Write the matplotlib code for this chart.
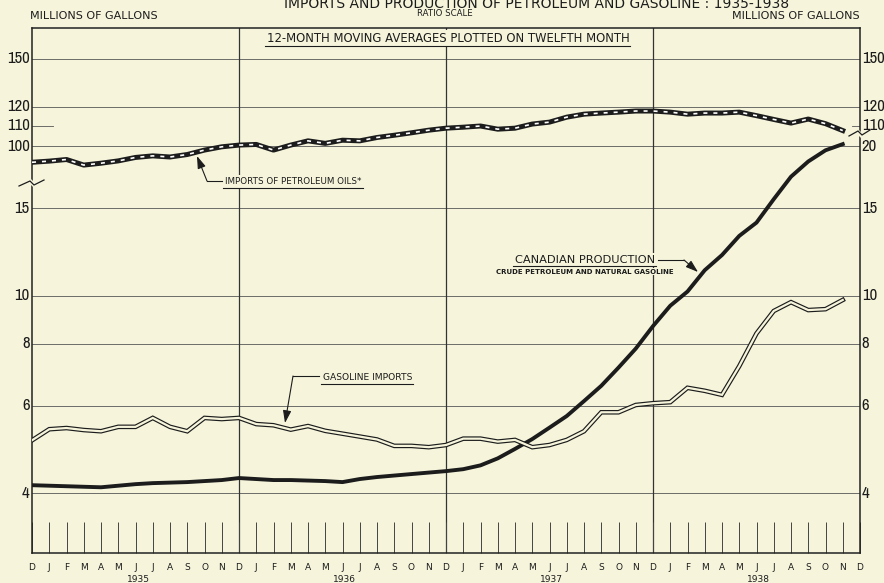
import matplotlib
matplotlib.use("Agg")
import matplotlib.pyplot as plt
from matplotlib import font_manager
from matplotlib.font_manager import FontProperties
from matplotlib.transforms import Affine2D, blended_transform_factory
from matplotlib.lines import Line2D
from matplotlib.ticker import NullLocator

plt.rcParams['lines.scale_dashes'] = False

# ---------------- data ----------------
month_letters = ['D', 'J', 'F', 'M', 'A', 'M', 'J', 'J', 'A', 'S', 'O', 'N'] * 4 + ['D']
year_labels = ['1935', '1936', '1937', '1938']
year_positions = [6.2, 18.1, 30.1, 42.1]
months = list(range(48))  # Dec 1934 ... Nov 1938

# millions of gallons (upper part of ratio scale)
imports_petroleum = [92.8, 93.3, 94.0, 91.6, 92.4, 93.4, 94.9, 95.6, 95.1, 96.2, 98.2, 99.7,
                     100.5, 100.8, 98.2, 100.5, 102.5, 101.3, 102.8, 102.5, 104.1, 105.2, 106.4, 107.7,
                     108.7, 109.2, 109.8, 108.2, 108.7, 110.8, 111.8, 114.4, 116.0, 116.6, 117.1, 117.7,
                     117.7, 117.1, 116.0, 116.6, 116.6, 117.1, 115.2, 113.2, 111.3, 113.4, 111.0, 107.5]
# millions of gallons (lower part)
canadian_production = [4.15, 4.14, 4.13, 4.12, 4.11, 4.14, 4.17, 4.19, 4.20, 4.21, 4.23, 4.25,
                       4.29, 4.27, 4.25, 4.25, 4.24, 4.23, 4.21, 4.27, 4.31, 4.34, 4.37, 4.40,
                       4.43, 4.47, 4.55, 4.70, 4.91, 5.14, 5.42, 5.72, 6.13, 6.58, 7.16, 7.82,
                       8.68, 9.54, 10.19, 11.25, 12.07, 13.19, 14.03, 15.64, 17.36, 18.63, 19.62, 20.19]
gasoline_imports = [5.11, 5.38, 5.41, 5.36, 5.33, 5.44, 5.44, 5.67, 5.44, 5.33, 5.67, 5.64,
                    5.67, 5.51, 5.48, 5.37, 5.46, 5.34, 5.27, 5.20, 5.13, 4.98, 4.98, 4.95,
                    5.00, 5.15, 5.15, 5.08, 5.12, 4.95, 5.00, 5.12, 5.33, 5.82, 5.82, 6.02,
                    6.07, 6.10, 6.52, 6.43, 6.31, 7.21, 8.39, 9.31, 9.70, 9.35, 9.39, 9.80]

UPPER_FACTOR = 5.0  # upper section: 100 sits where 20 sits on the lower section
upper_ticks = [150, 120, 110, 100]
lower_ticks = [15, 10, 8, 6, 4]
right_upper_ticks = [150, 120, 110]
right_lower_ticks = [20, 15, 10, 8, 6, 4]

# ---------------- styling ----------------
BG = '#f6f5dc'
INK = '#1c1c1c'
W, H = 884, 583


def number_font():
    cands = []
    for f in font_manager.fontManager.ttflist:
        nm = f.name
        narrow = ('Narrow' in nm or 'Condensed' in nm or
                  f.stretch in ('condensed', 'semi-condensed', 'extra-condensed'))
        if narrow and 'Mono' not in nm and 'Serif' not in nm and f.style == 'normal':
            w = f.weight if isinstance(f.weight, int) else 400
            cands.append((abs(w - 400), nm, f.fname))
    if cands:
        cands.sort()
        return FontProperties(fname=cands[0][2], size=12)
    return FontProperties(family='Liberation Sans', size=9.8)


NUM_FP = number_font()
plt.rcParams['font.family'] = ['DejaVu Sans']

fig = plt.figure(figsize=(W / 100, H / 100), dpi=100, facecolor=BG)
ax = fig.add_axes([32 / W, 30 / H, 828 / W, 525 / H], facecolor=BG)
ax.set_yscale('log')
ax.set_ylim(3.03, 34.6)
ax.set_xlim(0, 48)
ax.yaxis.set_major_locator(NullLocator())
ax.yaxis.set_minor_locator(NullLocator())
ax.set_xticks(range(49))
ax.tick_params(axis='x', direction='in', length=22.3, width=0.7, color='#444', labelbottom=False)
for s in ax.spines.values():
    s.set_linewidth(1.1)
    s.set_color('#222')

# gridlines
grid_vals = [v / UPPER_FACTOR for v in [150, 120, 100]] + lower_ticks
for v in grid_vals:
    ax.axhline(v, color='#555', lw=0.6, zorder=1)
for x in (12, 24, 36):
    ax.axvline(x, color='#333', lw=0.9, zorder=1)
ax_b = blended_transform_factory(ax.transAxes, ax.transData)
ax.plot([0, 0.025], [110 / UPPER_FACTOR] * 2, transform=ax_b, color='#555', lw=0.6)
ax.plot([0.99, 1.0], [110 / UPPER_FACTOR] * 2, transform=ax_b, color='#555', lw=0.6)

# y labels
for v in upper_ticks:
    ax.text(-0.003, v / UPPER_FACTOR, str(v), transform=ax_b, ha='right', va='center',
            fontproperties=NUM_FP, color=INK)
for v in lower_ticks:
    ax.text(-0.003, v, str(v), transform=ax_b, ha='right', va='center',
            fontproperties=NUM_FP, color=INK)
for v in right_upper_ticks:
    ax.text(1.002, v / UPPER_FACTOR, str(v), transform=ax_b, ha='left', va='center',
            fontproperties=NUM_FP, color=INK)
for v in right_lower_ticks:
    ax.text(1.002, v, str(v), transform=ax_b, ha='left', va='center',
            fontproperties=NUM_FP, color=INK)

# month / year labels
bx = blended_transform_factory(ax.transData, ax.transAxes)
for i, m in enumerate(month_letters):
    ax.text(i, -14 / 525, m, transform=bx, ha='center', va='center', fontsize=6.5, color=INK,
            clip_on=False)
for p, y in zip(year_positions, year_labels):
    ax.text(p, -26 / 525, y, transform=bx, ha='center', va='center', fontsize=6.5, color=INK,
            clip_on=False)

# series
imp = [v / UPPER_FACTOR for v in imports_petroleum]
ax.plot(months, imp, color=INK, lw=3.6, solid_joinstyle='round', zorder=5)
ax.plot(months, imp, color='white', lw=1.2, dashes=(2.9, 4.3), zorder=6)
ax.plot(months, canadian_production, color=INK, lw=2.8, solid_joinstyle='round', zorder=5)
ax.plot(months, gasoline_imports, color=INK, lw=3.3, solid_joinstyle='miter', zorder=5)
ax.plot(months, gasoline_imports, color=BG, lw=1.6, solid_joinstyle='miter', zorder=6)

# ---------------- text in reference pixel space ----------------
px = Affine2D().scale(1, -1).translate(0, H)
box = dict(facecolor=BG, edgecolor='none', pad=1.5)

fig.text(537, 7.5, 'IMPORTS AND PRODUCTION OF PETROLEUM AND GASOLINE : 1935-1938',
         transform=px, ha='center', va='baseline', fontsize=10, color=INK)
fig.text(30, 19, 'MILLIONS OF GALLONS', transform=px, ha='left', va='baseline', fontsize=8, color=INK)
fig.text(860, 19, 'MILLIONS OF GALLONS', transform=px, ha='right', va='baseline', fontsize=8, color=INK)
fig.text(445, 16.5, 'RATIO SCALE', transform=px, ha='center', va='baseline', fontsize=6.2, color=INK)

underlined = []
t = fig.text(448, 42, '12-MONTH MOVING AVERAGES PLOTTED ON TWELFTH MONTH', transform=px,
             ha='center', va='baseline', fontsize=8.4, color=INK, bbox=box, zorder=4)
underlined.append((t, 45.5))
t_imp = fig.text(225, 184, 'IMPORTS OF PETROLEUM OILS*', transform=px, ha='left', va='baseline',
                 fontsize=6.3, color=INK, bbox=box, zorder=4)
underlined.append((t_imp, 188))
t_can = fig.text(585, 263, 'CANADIAN PRODUCTION', transform=px, ha='center', va='baseline',
                 fontsize=8.2, color=INK, bbox=box, zorder=4)
underlined.append((t_can, 266))
fig.text(585, 273.5, 'CRUDE PETROLEUM AND NATURAL GASOLINE', transform=px, ha='center',
         va='baseline', fontsize=5.0, weight='bold', color=INK,
         bbox=dict(facecolor=BG, edgecolor='none', pad=0.5), zorder=4)
t_gas = fig.text(323, 380, 'GASOLINE IMPORTS', transform=px, ha='left', va='baseline',
                 fontsize=6.6, color=INK, bbox=box, zorder=4)
underlined.append((t_gas, 383.5))

fig.canvas.draw()
inv = px.inverted()
ext = {}
for tt, uy in underlined:
    bb = tt.get_window_extent()
    (x0, _), (x1, _) = inv.transform([(bb.x0, bb.y0), (bb.x1, bb.y0)])
    ext[tt] = (x0, x1)
    fig.add_artist(Line2D([x0 - 2, x1 + 1], [uy, uy], transform=px, color=INK, lw=0.8, zorder=5))

arrow = dict(arrowstyle='-|>,head_length=0.75,head_width=0.25', color=INK, lw=0.8,
             shrinkA=0, shrinkB=0)

# imports leader
fig.add_artist(Line2D([222, 207], [181, 181], transform=px, color=INK, lw=0.8, zorder=5))
ax.annotate('', xy=(197, 156), xycoords=px, xytext=(207, 181), textcoords=px, arrowprops=arrow)
# canadian leader
cx1 = ext[t_can][1] + 3
fig.add_artist(Line2D([cx1, 684], [260, 260], transform=px, color=INK, lw=0.8, zorder=5))
ax.annotate('', xy=(698, 272), xycoords=px, xytext=(684, 260), textcoords=px, arrowprops=arrow)
# gasoline leader
fig.add_artist(Line2D([319, 293], [376, 376], transform=px, color=INK, lw=0.8, zorder=5))
ax.annotate('', xy=(285, 423), xycoords=px, xytext=(293, 376), textcoords=px, arrowprops=arrow)

# scale-break marks
fig.add_artist(Line2D([28, 36], [179, 187], transform=px, color=BG, lw=3, zorder=6))
fig.add_artist(Line2D([19, 30, 34, 44], [186, 181, 185, 180], transform=px, color=INK, lw=0.9, zorder=7))
fig.add_artist(Line2D([856, 864], [130, 138], transform=px, color=BG, lw=3, zorder=6))
fig.add_artist(Line2D([849, 858, 862, 870], [136, 131, 135, 130], transform=px, color=INK, lw=0.9, zorder=7))

fig.savefig('out.png', dpi=100, facecolor=BG)
